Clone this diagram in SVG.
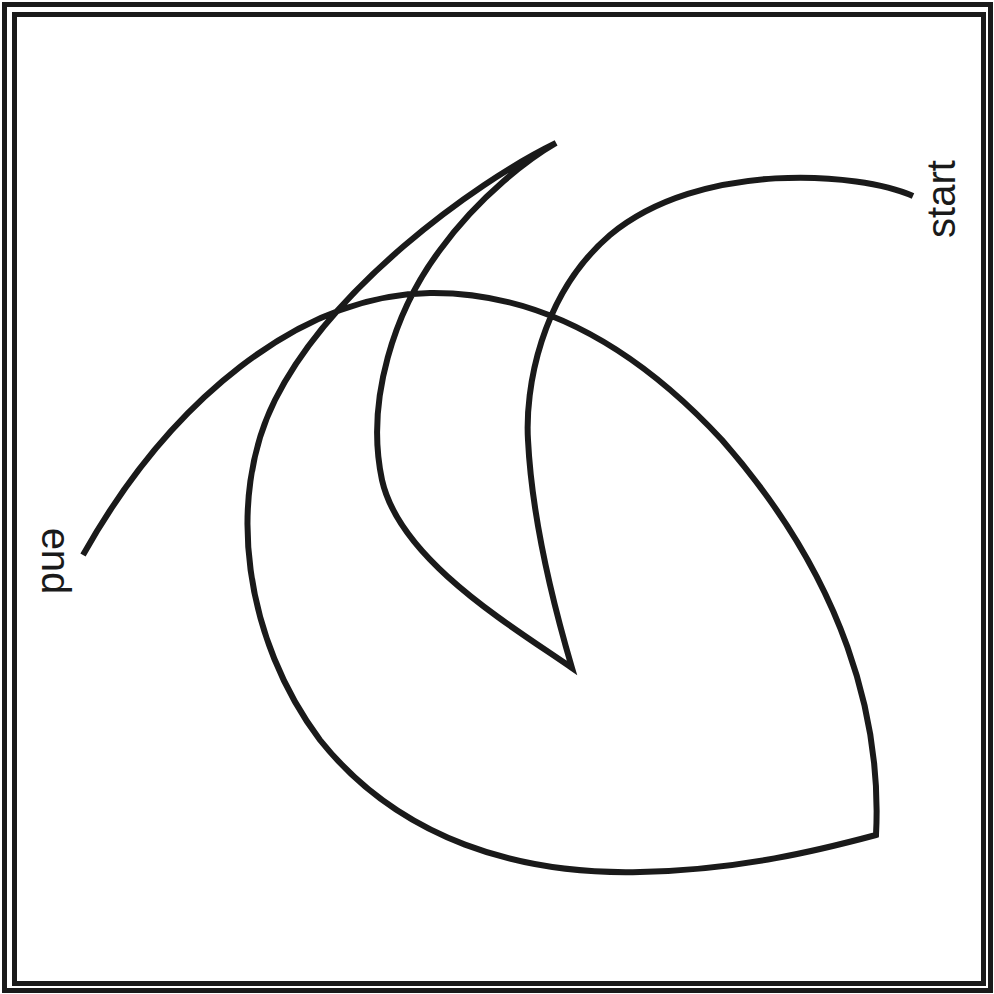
<svg xmlns="http://www.w3.org/2000/svg" width="994" height="994" viewBox="0 0 994 994">
<style>
.frame{fill:none;stroke:#1a1a1a;stroke-width:5}
.curve{fill:none;stroke:#1a1a1a;stroke-width:6;stroke-linejoin:miter;stroke-miterlimit:20}
.lbl{font-family:"Liberation Sans",Arial,sans-serif;font-size:40px;fill:#1a1a1a;text-anchor:middle}
</style>
<rect width="994" height="994" fill="#fff"/>
<g id="frame">
<rect class="frame" x="4.5" y="4.5" width="986" height="986"/>
<rect class="frame" x="14.5" y="14.5" width="969" height="969"/>
</g>
<g id="connectors">
<path class="curve" d="M913,196 C860,172 700,160 610,235 C540,295 525,390 528,440 C532,520 552,600 572,668 C510,625 400,560 382,480 C365,400 395,310 440,250 C480,195 530,158 556,143 C470,185 330,290 275,400 C225,500 245,640 320,740 C400,840 520,875 640,872 C740,870 820,850 876,835 C882,720 845,580 722,440 C620,330 520,292 430,293 C300,295 170,400 83,555"/>
</g>
<g id="start">
<text class="lbl" transform="translate(955,199) rotate(-90)">start</text>
</g>
<g id="end">
<text class="lbl" transform="translate(42,561) rotate(90)">end</text>
</g>
</svg>
